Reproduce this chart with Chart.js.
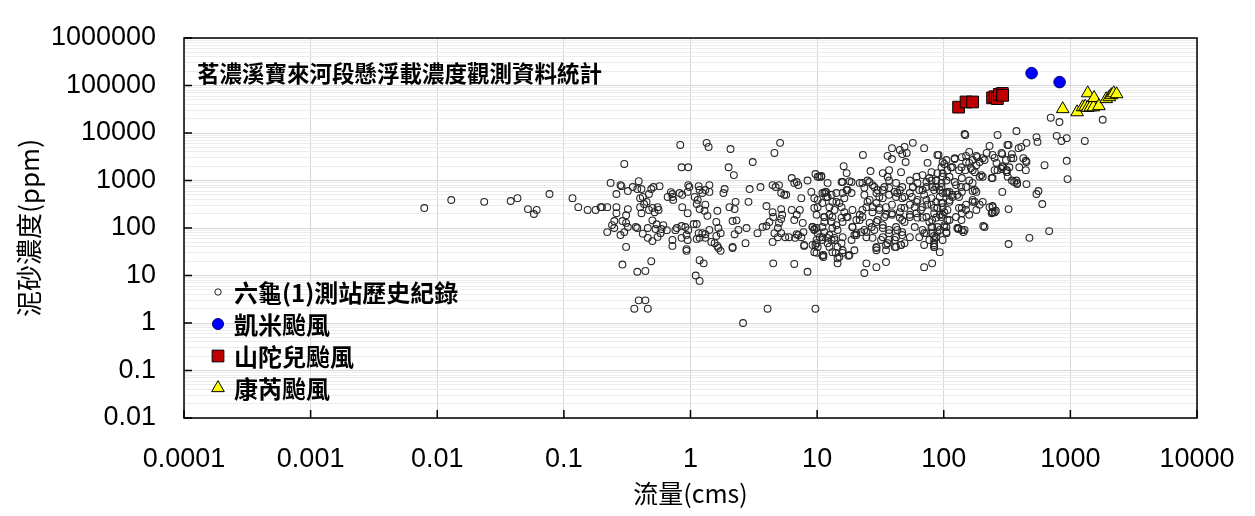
<!DOCTYPE html>
<html>
<head>
<meta charset="utf-8">
<script src="https://cdn.jsdelivr.net/npm/chart.js@4.4.1/dist/chart.umd.min.js"></script>
<style>
  html, body { margin: 0; padding: 0; background: #fff; }
  #wrap { width: 1255px; height: 516px; }
</style>
</head>
<body>
<div id="wrap"><canvas id="scatterChart" width="1255" height="516"></canvas></div>
<script>
const chartTitle = "茗濃溪寶來河段懸浮載濃度觀測資料統計";
const xAxisTitle = "流量(cms)";
const yAxisTitle = "泥砂濃度(ppm)";
const seriesNames = ["六龜(1)測站歷史紀錄", "凱米颱風", "山陀兒颱風", "康芮颱風"];

// tick labels (decades)
const xTickValues = [0.0001, 0.001, 0.01, 0.1, 1, 10, 100, 1000, 10000];
const yTickValues = [0.01, 0.1, 1, 10, 100, 1000, 10000, 100000, 1000000];

// [flow (cms), concentration (ppm)]
const historyPoints = [
  [0.0079,263],[0.0129,389],[0.0235,355],[0.038,370],[0.043,425],[0.052,250],[0.058,197],[0.061,240],
  [0.077,520],[0.117,425],[0.13,275],[0.154,240],[0.178,240],[0.195,275],[0.22,275],
  [0.234,890],[0.30,2230],[0.26,520],[0.285,760],[0.28,800],[0.39,970],[0.35,730],[0.32,600],[0.41,660],[0.38,660],
  [0.49,660],[0.51,730],[0.57,760],[0.47,520],[0.42,450],[0.40,425],[0.45,355],[0.43,320],
  [0.40,275],[0.41,205],[0.47,240],[0.50,265],[0.55,275],[0.56,240],[0.52,215],
  [0.32,250],[0.31,185],[0.26,275],[0.20,275],
  [0.26,205],[0.29,140],[0.31,128],[0.25,140],[0.24,115],[0.25,100],[0.22,82],[0.28,71],[0.30,82],[0.32,105],
  [0.37,105],[0.38,100],[0.42,76],[0.46,62],[0.50,53],[0.46,100],[0.53,95],[0.50,145],[0.54,120],
  [0.59,95],[0.61,115],[0.65,90],[0.58,78],[0.55,65],
  [0.31,40],[0.29,17],[0.38,12],[0.44,12.5],[0.49,20],
  [0.39,3],[0.44,3],[0.36,2],[0.46,2],
  [0.83,5600],[1.34,6200],[1.39,5100],[2.07,4600],[4.6,3800],[5.1,6200],[0.85,1900],[0.96,1900],[2.0,1900],[2.2,1300],[3.1,2450],
  [0.70,570],[0.72,520],[0.66,450],[0.73,390],[0.72,450],
  [0.82,545],[0.86,500],[0.96,800],[0.98,730],[0.95,575],[1.16,760],[1.18,630],[1.24,545],[1.31,630],[1.41,800],
  [1.41,575],[1.08,450],[1.14,390],[1.12,320],[1.18,250],[1.31,310],[1.29,230],[1.36,180],[1.63,230],[1.86,660],[1.82,545],
  [0.86,275],[0.95,205],[0.85,110],[0.78,100],[0.76,90],[0.91,105],[0.96,90],[0.93,71],[0.95,56],[0.85,62],[0.72,56],
  [0.72,42],[0.93,36],[0.93,33],
  [1.06,121],[1.12,121],[1.16,78],[1.12,59],[1.18,62],[1.24,78],[1.31,74],[1.31,62],[1.41,91],[1.46,51],[1.60,134],
  [1.66,100],[1.73,78],[1.60,68],[1.63,42],[1.66,38],[1.73,33],[1.55,48],[1.18,21],[1.27,18],[1.10,10],[1.18,7.7],[2.15,40],
  [2.03,275],[2.23,250],[2.27,355],[2.87,355],[2.93,660],[3.57,730],[3.98,290],
  [2.15,140],[2.31,145],[2.39,91],[2.23,74],[2.77,100],[2.72,48],[2.15,38],[2.6,1],
  [3.38,78],[3.71,105],[3.98,110],[4.2,134],[4.45,800],[4.7,730],[5.0,800],[5.2,545],[5.5,500],[5.7,500],[6.3,1130],
  [6.6,890],[6.9,930],[7.1,800],[7.5,425],[8.4,1000],[9.0,575],[9.7,1370],[10.1,1200],
  [4.45,215],[4.5,170],[5.2,250],[5.3,190],[5.2,155],[5.0,128],[4.9,100],[4.6,78],[4.45,51],[4.5,18],[4.9,64],[5.2,78],
  [5.6,64],[6.0,64],[6.3,240],[6.6,147],[6.9,190],[7.3,240],[6.9,74],[7.1,71],[7.5,64],[6.7,62],[6.6,17.5],[7.7,128],
  [7.9,44],[7.8,82],[9.2,105],[9.5,95],[10.1,78],[9.7,44],[8.4,12],[9.9,30],[4.06,2],[9.7,2],
  [146,9500],[148,9100],[266,9100],[318,5600],[57,6200],
  [39,4800],[45,4400],[49,5100],[51,3800],[47,3600],[70,4800],[36,3300],[39,2830],[50,2450],[23,3450],
  [16.2,2000],[17.1,1430],[26.4,1580],[33,1430],[37,1650],[36,1200],[46,1500],
  [10.8,1250],[12.1,890],[10.4,1200],
  [74.5,2350],[89,3450],[98,2450],[105,2700],[122,2950],[139,3100],[150,2450],[159,4000],[181,3300],[203,2950],
  [230,5350],[243,3450],[286,3800],[261,2350],[291,1900],[312,1650],[330,1900],[239,1130],[203,1200],[198,1300],
  [159,1000],[181,2100],[138,1900],[117,1900],[107,1650],[132,1650],[169,1650],[89,1430],[80,1500],
  [9.5,425],[10.1,390],[11.0,545],[11.6,575],[11.8,450],[9.5,265],[10.1,275],[9.9,190],[11.4,170],[12.5,190],
  [13.2,170],[11.4,134],[11.0,105],[9.2,105],[9.9,100],[9.5,91],[10.5,64],[11.0,64],[12.1,62],[13.0,56],[13.7,56],
  [9.9,48],[9.2,44],[10.1,40],[9.5,31],[11.0,26],[12.5,40],[14.0,30],[15.0,24.5],[14.5,18],[15.9,34],[17.7,26],
  [15.6,48],[15.9,64],[14.5,91],[13.2,100],[15.9,134],[17.1,170],[19.0,240],[15.6,275],[14.2,355],[15.9,545],
  [17.4,630],[18.7,930],[15.6,930],[14.2,545],[13.0,500],
  [21.7,890],[23.6,700],[25.9,930],[28.3,730],[29.4,545],[31,450],[33,630],[37,700],[41,575],[45,630],[42,450],
  [47,425],[54,545],[57,730],[62,890],[68,630],[73,930],[80,1000],[87,730],[96,890],[105,1000],[98,545],[111,575],
  [117,450],[111,355],[128,500],[139,575],[150,730],[169,890],[181,575],[169,355],[150,310],[132,265],[139,205],
  [125,170],[107,240],[98,275],[87,355],[80,310],[73,390],[68,275],[61,355],[54,310],[49,265],[45,215],[39,205],
  [35,190],[31,240],[27.4,275],[25,355],[22.8,240],[21.7,190],[20.4,147],[19.0,105],[20.4,71],[23.6,91],[27,105],
  [29.4,134],[33,115],[37,91],[42,105],[47,147],[54,170],[61,205],[68,165],[77,134],[87,165],[98,190],[111,147],
  [128,100],[138,147],[159,190],[181,240],[192,310],[203,355],[230,275],[243,215],[210,105],[139,91],[105,82],
  [93,91],[81,105],[73,78],[84,56],[84,44],[54,64],[47,82],[42,64],[37,56],[33,64],[29.4,40],[29.4,34],[35,44],
  [41,40],[46,44],[24.5,64],[22.3,82],[19.7,71],
  [24.5,18],[23.6,11.3],[29.4,15],[35,19.2],[70,15],[81,18],[325,46],[84,40],[14.5,23],[11.2,24.5],[7.9,42],[9.9,56],
  [475,62],[680,86],[600,320],[325,250],[243,275],[253,215],[239,205],[205,110],[130,95],[143,82],[70,78],[84,68],
  [105,78],[105,105],
  [700,21000],[820,17000],[1800,19000],[375,11000],[780,8700],[850,6800],[935,7800],[1300,6800],[325,5600],[390,4800],
  [410,5100],[450,6200],[540,8200],[550,6500],
  [290,3600],[345,3600],[355,2950],[310,2700],[425,2950],[445,2600],[625,2100],[395,1900],[445,1650],[290,2000],
  [315,1500],[320,1200],[360,930],[380,840],[375,1000],[450,840],[290,575],[540,520],[560,600],[935,2600],[950,1070],
  [252,3000],[340,2950],[450,2450],[252,1650],[266,1650],[286,1750],[315,1650],[243,1130],[345,1000],[380,890],
  [243,290],[243,215],[258,230],[169,600],
  [91,3450],[101,2230],[96,1900],[114,1900],[122,2830],[150,3300],[159,2350],[169,2700],[184,3100],[192,2450],
  [210,2700],[218,3800],[148,1650],[164,1830],[176,1500],[192,1200],[139,1130],[137,730],[125,800],[122,930],
  [111,1200],[98,1430],[87,1000],[81,730],[93,630],[107,575],[117,500],[132,450],[111,390],[98,335],[89,265],
  [84,205],[96,170],[107,147],[101,105],[89,105],[81,78],[87,64],[139,265],[150,240],[169,390],[176,355],
  [176,630],[130,100],[146,91],[84,48],
  [10.8,1200],[11.8,575],[11.4,545],[12.1,450],[13.2,355],[11.0,335],[12.5,275],[13.7,240],[15.0,335],[16.4,425],
  [17.1,630],[18.7,545],[15.9,930],[18.0,970],[16.4,215],[15.6,165],[17.4,170],[11.4,170],[13.0,134],[14.2,115],
  [11.4,82],[12.5,71],[13.7,62],[11.0,56],[12.1,48],[14.5,40],[13.2,31],[11.2,27],[15.9,30],[18.0,27],[19.7,34],
  [18.7,56],[20.4,78],[19.0,105],[21.7,147],
  [22.8,890],[25,1000],[27.4,800],[30,630],[34,730],[37,1000],[42,890],[47,730],[23.6,500],[26,390],[29.4,335],
  [33,425],[37,500],[43,545],[49,450],[24.5,275],[27.4,215],[31,265],[35,275],[39,310],[46,265],[22.8,170],[26,128],
  [30,147],[34,170],[39,190],[45,165],[49,134],[24.5,82],[28.3,91],[33,100],[37,78],[43,91],[47,71],[27.4,62],
  [32,56],[36,48],[41,56],[46,44],[29.4,38],[35,34],[42,40],[49,48],
  [54,1000],[61,1200],[68,1300],[77,1130],[87,1000],[98,1200],[57,730],[64,630],[73,730],[84,630],[96,730],
  [56,450],[62,390],[70,500],[80,425],[93,450],[105,545],[59,275],[66,240],[74,310],[84,265],[96,335],[54,190],
  [62,165],[73,170],[81,147],[93,190],[101,215],[59,105],[68,91],[80,105],[89,82],[101,115],[64,64],[77,56],
  [87,64],[98,56],[84,40],[93,31],[70,44]
];
const kaemiPoints = [[494,182000],[822,118000]];
const krathonPoints = [[131,35000],[150,45000],[169,45000],[243,55000],[255,58000],[265,53000],[275,65000],[290,68000],[292,62000]];
const kongreyPoints = [[870,32000],[1130,27500],[1250,35000],[1310,36000],[1370,34000],[1440,35000],[1370,69000],[1520,35000],
  [1540,55000],[1680,37000],[1920,52000],[2030,57000],[2110,63000],[2200,69000],[2320,66000]];

const toXY = (pts) => pts.map(([x, y]) => ({ x, y }));

const tickFont = { family: "'Liberation Sans', Arial, sans-serif", size: 27 };
const cjkFont = "'Noto Sans CJK TC', 'Noto Sans CJK SC', sans-serif";

const datasets = [
  {
    label: seriesNames[0], data: toXY(historyPoints), order: 1,
    pointStyle: "circle", pointRadius: 3.4, pointBorderWidth: 1.1,
    pointBorderColor: "#262626", pointBackgroundColor: "rgba(0,0,0,0)",
  },
  {
    label: seriesNames[1], data: toXY(kaemiPoints), order: 0,
    pointStyle: "circle", pointRadius: 5.8, pointBorderWidth: 1,
    pointBorderColor: "#00007a", pointBackgroundColor: "#0000ff",
  },
  {
    label: seriesNames[2], data: toXY(krathonPoints), order: 0,
    pointStyle: "rect", pointRadius: 8.3, pointBorderWidth: 1,
    pointBorderColor: "#000", pointBackgroundColor: "#c00000",
  },
  {
    label: seriesNames[3], data: toXY(kongreyPoints), order: 0,
    pointStyle: "triangle", pointRadius: 7.3, pointBorderWidth: 1,
    pointBorderColor: "#000", pointBackgroundColor: "#ffff00",
  },
];

// frame, inward ticks, title and legend inside the plot
const framePlugin = {
  id: "frame",
  afterDatasetsDraw(chart) {
    const { ctx, chartArea: a, scales } = chart;
    ctx.save();
    ctx.strokeStyle = "#000";
    ctx.lineWidth = 1.5;
    ctx.beginPath();
    xTickValues.forEach((v) => {
      const x = scales.x.getPixelForValue(v);
      ctx.moveTo(x, a.bottom);
      ctx.lineTo(x, a.bottom - 8);
    });
    yTickValues.forEach((v) => {
      const y = scales.y.getPixelForValue(v);
      ctx.moveTo(a.left, y);
      ctx.lineTo(a.left + 8, y);
    });
    ctx.stroke();
    ctx.strokeRect(a.left, a.top, a.right - a.left, a.bottom - a.top);

    ctx.fillStyle = "#000";
    ctx.textAlign = "left";
    ctx.textBaseline = "middle";
    ctx.font = "bold 22.5px " + cjkFont;
    ctx.fillText(chartTitle, a.left + 13, a.top + 35);

    // legend
    ctx.font = "bold 24px " + cjkFont;
    const legendSizes = [3.2, 5.5, 8.3, 7.3];
    chart.data.datasets.forEach((ds, i) => {
      const y = a.top + 254 + i * 32;
      const x = a.left + 34;
      ctx.fillStyle = ds.pointBackgroundColor;
      ctx.strokeStyle = ds.pointBorderColor;
      ctx.lineWidth = 1;
      Chart.helpers.drawPoint(ctx, { pointStyle: ds.pointStyle, radius: legendSizes[i], rotation: 0, borderWidth: 1 }, x, y);
      ctx.fillStyle = "#000";
      ctx.fillText(ds.label, a.left + 50, y + 1);
    });
    ctx.restore();
  },
};

new Chart(document.getElementById("scatterChart"), {
  type: "scatter",
  data: { datasets },
  options: {
    responsive: false,
    animation: false,
    devicePixelRatio: 1,
    events: [],
    layout: { padding: { top: 38, right: 58, left: 0, bottom: 0 } },
    plugins: { legend: { display: false }, tooltip: { enabled: false } },
    scales: {
      x: {
        type: "logarithmic",
        min: 0.0001, max: 10000,
        afterBuildTicks: (scale) => { scale.ticks = xTickValues.map((v) => ({ value: v })); },
        afterFit: (scale) => {
          scale.height = 98;
          scale.paddingLeft = 0;
          scale.paddingRight = 0;
        },
        grid: { color: "#d6d6d6", lineWidth: 1, drawTicks: false },
        border: { display: false },
        ticks: {
          autoSkip: false, maxRotation: 0, padding: 25, color: "#000", font: tickFont,
          callback: (value) => String(value),
        },
        title: {
          display: true, text: xAxisTitle, color: "#000",
          font: { family: cjkFont, size: 25 }, padding: { top: 0, bottom: 8 },
        },
      },
      y: {
        type: "logarithmic",
        min: 0.01, max: 1000000,
        afterBuildTicks: (scale) => {
          const ticks = [];
          yTickValues.forEach((v, i) => {
            ticks.push({ value: v, major: true });
            if (i < yTickValues.length - 1) {
              for (let k = 2; k <= 9; k++) ticks.push({ value: v * k, major: false });
            }
          });
          scale.ticks = ticks;
        },
        afterFit: (scale) => {
          scale.width = 184;
          scale.paddingTop = 0;
          scale.paddingBottom = 0;
        },
        grid: {
          drawTicks: false, lineWidth: 1,
          color: (c) => (c.tick && c.tick.major ? "#d6d6d6" : "#ececec"),
        },
        border: { display: false },
        ticks: {
          autoSkip: false, padding: 28, color: "#000", font: tickFont,
          callback: (value, index, ticks) => (ticks[index].major ? String(value) : ""),
        },
        title: {
          display: true, text: yAxisTitle, color: "#000",
          font: { family: cjkFont, size: 26 }, padding: { top: 14, bottom: 0 },
        },
      },
    },
  },
  plugins: [framePlugin],
});
</script>
</body>
</html>
